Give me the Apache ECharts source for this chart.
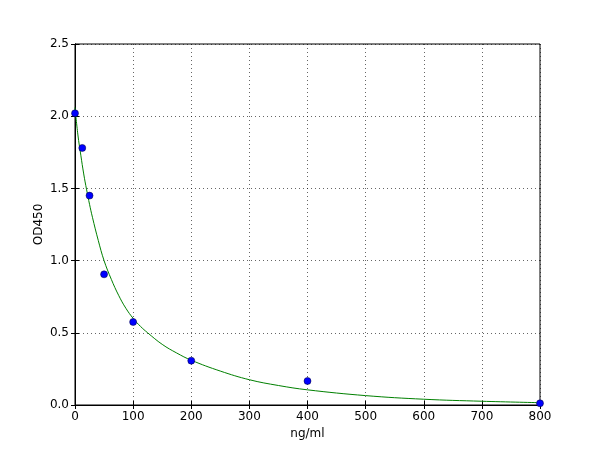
<!DOCTYPE html>
<html><head><meta charset="utf-8">
<script src="https://cdn.jsdelivr.net/npm/echarts@6/dist/echarts.min.js"></script>
<style>html,body{margin:0;padding:0;background:#fff}#c{width:600px;height:450px}</style>
</head><body><div id="c"></div>
<script>
const pointX = [0, 12.5, 25, 50, 100, 200, 400, 800];
const pointY = [2.02, 1.78, 1.45, 0.905, 0.575, 0.307, 0.166, 0.012];
const curveX = [0, 5, 10, 15, 20, 25, 30, 40, 50, 62.5, 75, 87.5, 100, 112.5, 125, 150, 175, 200, 250, 300, 350, 400, 500, 600, 700, 800];
const curveY = [2.06, 1.87, 1.73, 1.60, 1.49, 1.39, 1.30, 1.14, 1.00, 0.87, 0.76, 0.67, 0.60, 0.545, 0.50, 0.42, 0.36, 0.31, 0.235, 0.175, 0.135, 0.105, 0.065, 0.040, 0.026, 0.016];
const xTicks = [0, 100, 200, 300, 400, 500, 600, 700, 800];
const yTicks = [0.0, 0.5, 1.0, 1.5, 2.0, 2.5];

const font = 'DejaVu Sans';
const chart = echarts.init(document.getElementById('c'));
const tick = {show: true, inside: true, length: 4, lineStyle: {color: '#000', width: 1}};
const split = {show: true, lineStyle: {color: '#000', type: [1, 3], width: 1, opacity: 0.6}};
chart.setOption({
  animation: false,
  backgroundColor: '#fff',
  grid: {left: 75, right: 60, top: 44, bottom: 45, show: true, borderColor: '#000', borderWidth: 1, backgroundColor: 'transparent'},
  xAxis: [{
    type: 'value', min: xTicks[0], max: xTicks[xTicks.length-1], interval: 100,
    name: 'ng/ml', nameLocation: 'middle', nameGap: 23,
    nameTextStyle: {fontFamily: font, fontSize: 12, color: '#000'},
    axisLine: {show: true, lineStyle: {color: '#000'}},
    axisTick: tick, splitLine: split,
    axisLabel: {fontFamily: font, fontSize: 12, color: '#000', margin: 6}
  }, {
    type: 'value', position: 'top', min: xTicks[0], max: xTicks[xTicks.length-1], interval: 100,
    axisLine: {show: true, lineStyle: {color: '#000'}}, axisTick: tick, splitLine: {show: false}, axisLabel: {show: false}
  }],
  yAxis: [{
    type: 'value', min: yTicks[0], max: yTicks[yTicks.length-1], interval: 0.5,
    name: 'OD450', nameLocation: 'middle', nameGap: 30, nameRotate: 90, nameMoveOverlap: false,
    nameTextStyle: {fontFamily: font, fontSize: 12, color: '#000'},
    axisLine: {show: true, lineStyle: {color: '#000'}},
    axisTick: tick, splitLine: split,
    axisLabel: {fontFamily: font, fontSize: 12, color: '#000', margin: 6, formatter: v => v.toFixed(1)}
  }, {
    type: 'value', position: 'right', min: yTicks[0], max: yTicks[yTicks.length-1], interval: 0.5,
    axisLine: {show: true, lineStyle: {color: '#000'}}, axisTick: tick, splitLine: {show: false}, axisLabel: {show: false}
  }],
  series: [{
    type: 'line', smooth: 0.4, showSymbol: false, clip: true,
    data: curveX.map((x, i) => [x, curveY[i]]),
    lineStyle: {color: '#008000', width: 1}, z: 2
  }, {
    type: 'scatter', symbol: 'circle', symbolSize: 7, clip: false,
    data: pointX.map((x, i) => [x, pointY[i]]),
    itemStyle: {color: '#0000ff', borderColor: '#000033', borderWidth: 0.5, opacity: 1}, z: 3
  }]
});
</script></body></html>
